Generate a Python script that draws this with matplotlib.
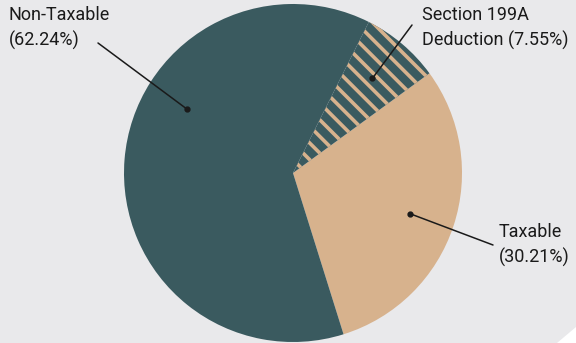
import numpy as np
import matplotlib.pyplot as plt
from matplotlib.patches import Polygon

# data
labels = ["Taxable", "Section 199A\nDeduction", "Non-Taxable"]
shares = [30.21, 7.55, 62.24]
label_texts = ["Taxable\n(30.21%)", "Section 199A\nDeduction (7.55%)", "Non-Taxable\n(62.24%)"]

teal = "#3a5a5f"
tan = "#d7b28d"
bg = "#e9e9eb"

plt.rcParams['font.family'] = ['Roboto', 'DejaVu Sans']
plt.rcParams['hatch.linewidth'] = 2.6

W, H = 576, 343
fig = plt.figure(figsize=(W / 100, H / 100), dpi=100)
fig.patch.set_facecolor(bg)

# white card corner bottom right
fig.patches.append(Polygon([[557 / W, 0], [1, 0], [1, (H - 327) / H]], closed=True,
                           transform=fig.transFigure, facecolor="white", edgecolor="none"))

cx, cy, r = 293, 173, 169
ax = fig.add_axes([(cx - r) / W, (H - cy - r) / H, 2 * r / W, 2 * r / H])
ax.set_facecolor("none")

wedges, _ = ax.pie(shares, startangle=-72.6, counterclock=True,
                   colors=[tan, teal, teal], radius=1,
                   wedgeprops=dict(linewidth=0))
wedges[1].set_hatch("\\\\")
wedges[1].set_edgecolor(tan)
wedges[1].set_linewidth(0)
wedges[1].set_facecolor(teal)
ax.set_xlim(-1, 1)
ax.set_ylim(-1, 1)
ax.axis("off")

# annotation layout: dot (data coords), line end (pixels), text anchor (pixels)
dots = [(0.69, -0.24), (0.47, 0.56), (-0.63, 0.38)]
line_ends = [(493, 245), (412, 25), (98, 43)]
text_pos = [(499, 223), (422, 6), (9, 6)]

for txt, d, le, tp in zip(label_texts, dots, line_ends, text_pos):
    ax.annotate("", xy=d, xycoords="data",
                xytext=(le[0] / W, 1 - le[1] / H), textcoords="figure fraction",
                arrowprops=dict(arrowstyle="-", color="#1a1a1a", lw=1.1,
                                shrinkA=0, shrinkB=0))
    ax.plot(d[0], d[1], "o", color="#1a1a1a", ms=3.5, clip_on=False)
    fig.text(tp[0] / W, 1 - tp[1] / H, txt, ha="left", va="top",
             fontsize=13, color="#1a1a1a", linespacing=1.45)

fig.savefig("out.png", dpi=100, facecolor=bg)
